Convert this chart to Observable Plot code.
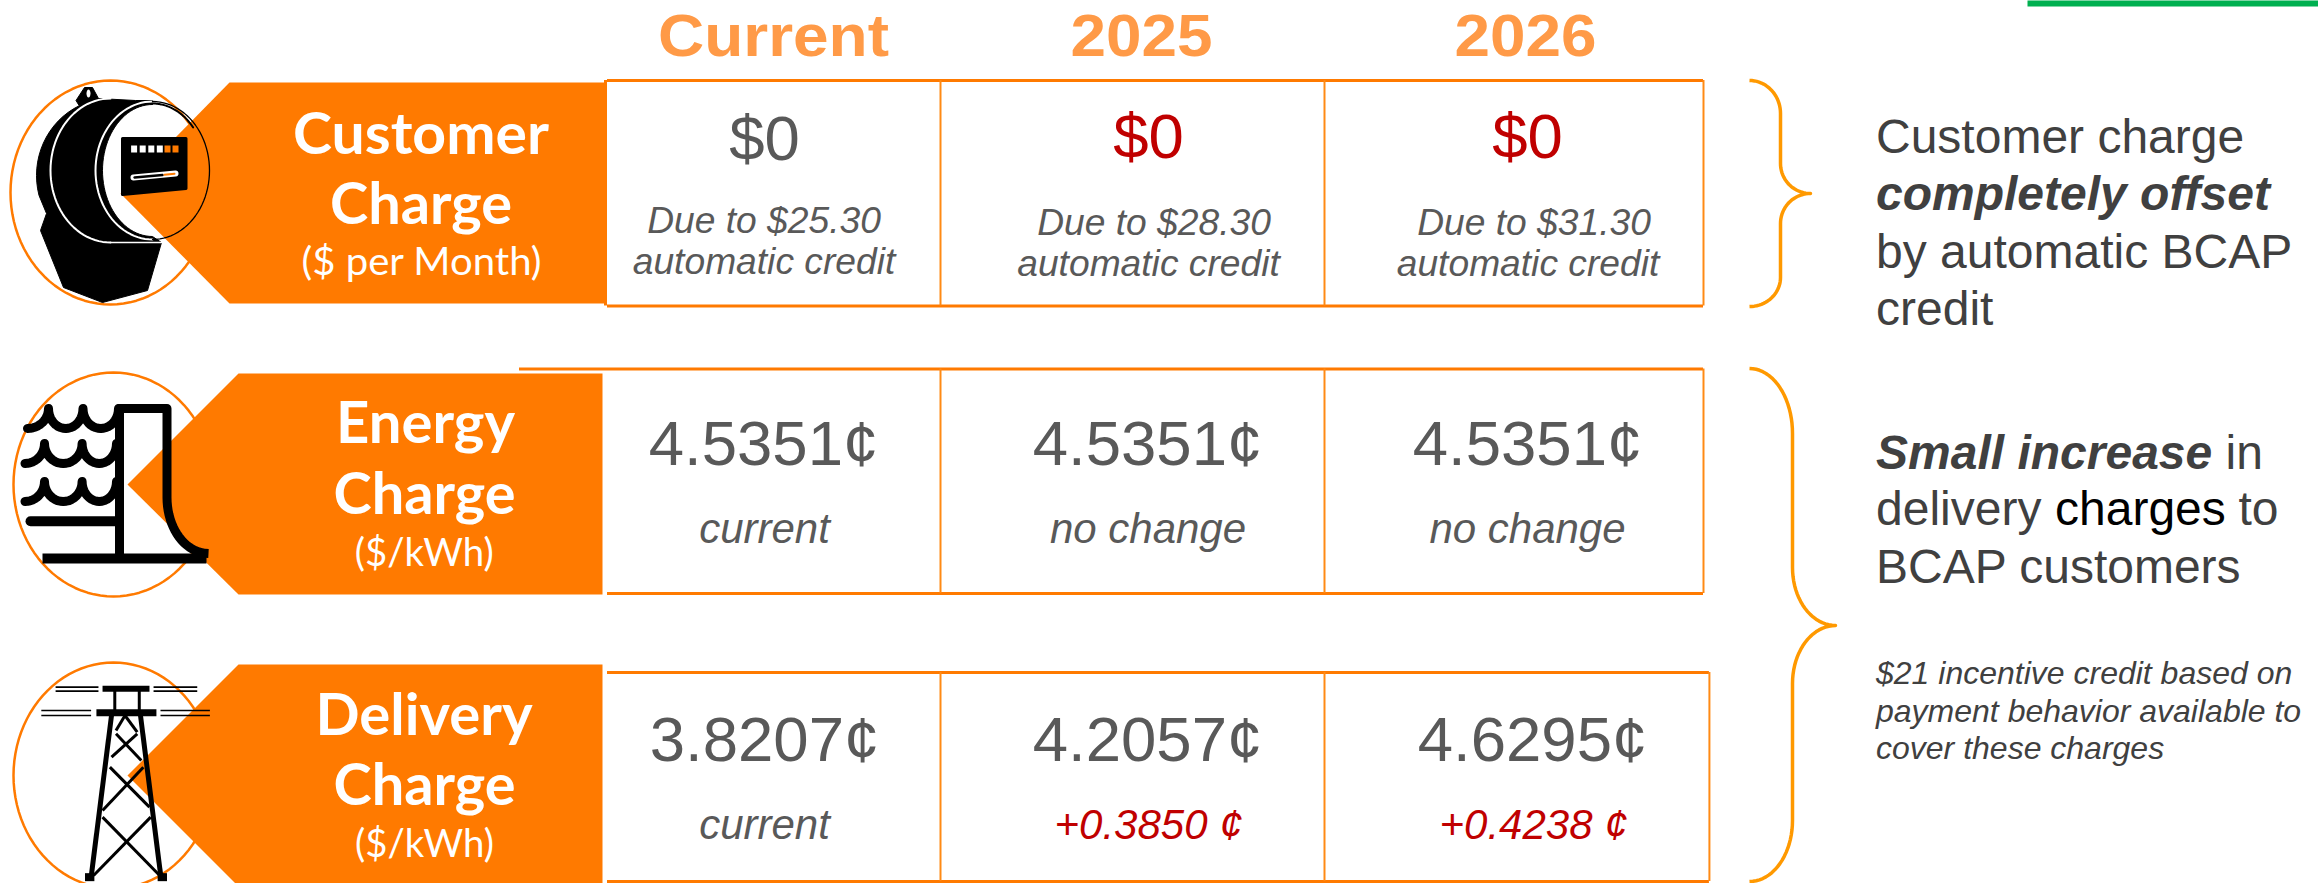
<!DOCTYPE html>
<html>
<head>
<meta charset="utf-8">
<script src="https://cdn.jsdelivr.net/npm/d3@7"></script>
<script src="https://cdn.jsdelivr.net/npm/@observablehq/plot@0.6"></script>
<style>html,body{margin:0;padding:0;background:#fff}svg{display:block}</style>
</head>
<body>
<script>
// ---------- content ----------
const headers = ["Current", "2025", "2026"];
const labelLines = [
  ["Customer", "Charge", "($ per Month)"],
  ["Energy", "Charge", "($/kWh)"],
  ["Delivery", "Charge", "($/kWh)"]
];
const rates = [
  ["$0", "$0", "$0"],
  ["4.5351¢", "4.5351¢", "4.5351¢"],
  ["3.8207¢", "4.2057¢", "4.6295¢"]
];
const creditLines = [
  ["Due to $25.30", "automatic credit"],
  ["Due to $28.30", "automatic credit"],
  ["Due to $31.30", "automatic credit"]
];
const changes = [
  ["current", "no change", "no change"],
  ["current", "+0.3850 ¢", "+0.4238 ¢"]
];
const customerNote = ["Customer charge", "completely offset", "by automatic BCAP", "credit"];
const deliveryNote = [["Small increase", "in"], ["delivery", "charges", "to"], ["BCAP customers"]];
const incentiveNote = ["$21 incentive credit based on", "payment behavior available to", "cover these charges"];

// ---------- layout: column and row positions ----------
// X: -1 = label panel, 0..3 = table column edges, 4 = note column
const X = d3.scaleLinear([-1, 0, 1, 2, 3, 4], [424, 604, 940, 1324, 1703, 1877]);
// Y: row r spans 2r .. 2r+1
const Y = d3.scaleLinear([0, 1, 2, 3, 4, 5], [80, 305.5, 368.5, 593, 672, 881]);

const ORANGE = "#FF7A00", LINE = "#FF8A14", BRACE = "#FF9900", HEAD = "#FF9A47";
const GREY = "#595959", NOTE = "#404040", RED = "#C00000";
const ARIAL = "'Liberation Sans', Arial, sans-serif", LABEL = "Lato, Carlito, sans-serif";

// place one text through the scales, offset from its column and row centre
function label(t, col, rowPos, px, py, o = {}) {
  return Plot.text([t], {
    x: () => X(col), y: () => Y(rowPos), text: d => d,
    dx: px - X(col), dy: py - Y(rowPos),
    lineAnchor: "bottom", textAnchor: "middle", fontFamily: ARIAL, ...o
  });
}
const marks = [];

// ---------- glyph helpers (icon outlines) ----------
const glyph = (pts, o) => Plot.line(pts, {
  x: d => d[0], y: d => d[1],
  stroke: "none", strokeLinecap: "round", strokeLinejoin: "round", ...o
});
function ell(cx, cy, rx, ry, a0, a1, n = 48) {
  return d3.range(n + 1).map(i => {
    const a = (a0 + (a1 - a0) * i / n) * Math.PI / 180;
    return [cx + rx * Math.cos(a), cy + ry * Math.sin(a)];
  });
}
const rectPts = (x0, y0, x1, y1) => [[x0, y0], [x1, y0], [x1, y1], [x0, y1], [x0, y0]];

// top-right green bar
marks.push(glyph(rectPts(2027, 0, 2318, 6), {fill: "#00B050"}));

// rings and arrow panels
const rings = [[110, 192, 100, 112], [113, 484, 100, 112], [113, 775, 100, 113]];
const panels = [
  [[229, 82], [605, 82], [605, 303], [229, 303], [120, 193], [229, 82]],
  [[238, 373], [602, 373], [602, 594], [238, 594], [127, 484], [238, 373]],
  [[238, 664], [602, 664], [602, 886], [238, 886], [127, 775], [238, 664]]
];
rings.forEach(([cx, cy, rx, ry]) => marks.push(glyph(ell(cx, cy, rx, ry, 0, 360, 96), {fill: "white", stroke: ORANGE, strokeWidth: 2.5})));
panels.forEach(p => marks.push(glyph(p, {fill: ORANGE})));

// --- meter icon ---
const faceInner = ell(152, 170, 50, 66, 90, 270);
const meterBody = [[152, 100], [135, 100], [98, 98], [92, 87], [84, 87], [75.5, 100], ...ell(110, 175, 74, 77, 245, 165, 16), [46, 213], [40, 230], [63, 287], [102, 302], [147, 290], [161, 242], ...faceInner];
marks.push(glyph(meterBody, {fill: "black", stroke: "black", strokeWidth: 1}));
marks.push(glyph(ell(88, 93, 2, 4, 0, 360, 16), {fill: "white"}));
marks.push(glyph(ell(152, 170, 57, 69, 90, 270), {stroke: "white", strokeWidth: 2}));
marks.push(glyph(ell(152, 170, 57, 69, -90, 90), {stroke: "black", strokeWidth: 1.3}));
marks.push(glyph(ell(152, 170, 53, 67, -90, -40), {stroke: "black", strokeWidth: 2}));
marks.push(glyph(ell(110, 170, 60, 72, 90, 270), {stroke: "white", strokeWidth: 2}));
marks.push(glyph([[110, 242], [161, 242]], {stroke: "white", strokeWidth: 1.5}));
marks.push(glyph([[122, 138], [185.5, 138], [185.5, 188], [122, 194], [122, 138]], {fill: "black", stroke: "black", strokeWidth: 3}));
[[130.6, "white"], [139.2, "white"], [147.8, "white"], [156.3, "white"], [164, ORANGE], [172, ORANGE]].forEach(([x, c]) =>
  marks.push(glyph(rectPts(x, 145, x + 6, 152), {fill: c})));
marks.push(glyph([[133, 177], [175, 173]], {stroke: "white", strokeWidth: 6}));
marks.push(glyph([[134, 177], [162, 174.5]], {stroke: "black", strokeWidth: 2.5}));
marks.push(glyph([[164, 174.3], [174, 173.3]], {stroke: ORANGE, strokeWidth: 2}));

// --- dam icon ---
function waves(x0, cusps, top, bottom) {
  let pts = ell(x0, top, cusps[0] - x0, bottom - top, 90, 0, 12);
  for (let i = 0; i + 1 < cusps.length; i++) {
    const a = cusps[i], b = cusps[i + 1];
    pts = pts.concat(ell((a + b) / 2, top, (b - a) / 2, bottom - top, 180, 0, 20));
  }
  return pts;
}
const waveStroke = {stroke: "black", strokeWidth: 9};
marks.push(glyph(waves(27, [48, 82.5, 118], 408, 428), waveStroke));
marks.push(glyph(waves(24.5, [44, 81.6, 116], 443, 463), waveStroke));
marks.push(glyph(waves(24.5, [44, 81.6, 116], 481, 501), waveStroke));
marks.push(glyph([[119, 557], [119, 408], [166.5, 408], [166.5, 497], ...ell(208, 497, 41.5, 56, 180, 90, 20).slice(1)], {stroke: "black", strokeWidth: 9, strokeLinecap: "butt"}));
marks.push(glyph([[30, 520.7], [116, 520.7]], {stroke: "black", strokeWidth: 10}));
marks.push(glyph([[42, 558], [206, 558]], {stroke: "black", strokeWidth: 10, strokeLinecap: "butt"}));

// --- tower icon ---
const tx = z => z / 2.45, ty = z => 620 + z / 3;
const tseg = (a, b, w) => marks.push(glyph([[tx(a[0]), ty(a[1])], [tx(b[0]), ty(b[1])]], {stroke: "black", strokeWidth: w, strokeLinecap: "butt"}));
tseg([250, 205], [365, 205], 6);
tseg([235, 277], [382, 277], 7);
tseg([280, 210], [280, 277], 3);
tseg([340, 210], [340, 277], 3);
tseg([272, 285], [222, 770], 5);
tseg([343, 285], [393, 770], 5);
tseg([230, 770], [207, 770], 8);
[[[283, 340], [345, 420]], [[335, 340], [272, 410]], [[268, 440], [365, 560]], [[350, 440], [250, 570]],
 [[250, 590], [390, 765]], [[368, 590], [228, 765]], [[305, 285], [283, 330]], [[305, 285], [335, 335]]]
  .forEach(([a, b]) => tseg(a, b, 3));
tseg([385, 770], [408, 770], 8);
[[135, 240, 200], [135, 240, 212], [375, 482, 200], [375, 482, 212], [100, 222, 270], [100, 222, 285], [392, 513, 270], [392, 513, 285]]
  .forEach(([a, b, y]) => tseg([a, y], [b, y], 1.6));

// ---------- table borders ----------
const rightEdge = [3, 3, 3.034];
const hairline = {stroke: ORANGE, strokeWidth: 3};
[0, 1, 2].forEach(r => {
  const x1 = r === 1 ? 519 : X(0) + 3;
  marks.push(Plot.ruleY([Y(2 * r)], {x1: () => x1, x2: () => X(rightEdge[r]), ...hairline}));
  marks.push(Plot.ruleY([Y(2 * r + 1)], {x1: () => X(0) + 3, x2: () => X(rightEdge[r]), ...hairline}));
  [1, 2, rightEdge[r]].forEach(c =>
    marks.push(Plot.ruleX([X(c)], {y1: () => Y(2 * r), y2: () => Y(2 * r + 1), stroke: LINE, strokeWidth: 2})));
});
marks.push(Plot.ruleX([X(0) + 1], {y1: () => Y(0), y2: () => Y(1), stroke: ORANGE, strokeWidth: 3}));

// ---------- braces ----------
function brace(x0, xv, xt, y0, yA, yB, yt, yC, yD, y1) {
  return [
    ...ell(x0, yA, xv - x0, yA - y0, -90, 0, 20),
    ...ell(xt, yB, xt - xv, yt - yB, 180, 90, 20),
    ...ell(xt, yC, xt - xv, yC - yt, -90, -180, 20),
    ...ell(x0, yD, xv - x0, y1 - yD, 0, 90, 20)
  ];
}
marks.push(glyph(brace(1749, 1780, 1810, 80, 113, 163, 193, 223, 277, 306), {stroke: BRACE, strokeWidth: 3.5, strokeLinecap: "butt"}));
marks.push(glyph(brace(1749, 1792, 1835, 368, 433, 567, 625, 683, 820, 881), {stroke: BRACE, strokeWidth: 3.5, strokeLinecap: "butt"}));

// ---------- header text ----------
const headerCenter = [773, 1141, 1525];
headers.forEach((h, c) => marks.push(label(h, c + 0.5, 0.5, headerCenter[c], 55.5, {fontSize: 60, fontWeight: 700, fill: HEAD})));

// ---------- panel labels ----------
const labelCenter = [[420.5, 420.5, 421], [425, 424, 423.7], [423.5, 424, 424]];
const labelBase = [[153, 223, 274], [442, 513, 565], [734, 804, 856]];
labelLines.forEach((lines, r) => lines.forEach((t, i) =>
  marks.push(label(t, -1, 2 * r + 0.5, labelCenter[r][i], labelBase[r][i], {
    fontFamily: LABEL, fill: "white", fontWeight: i < 2 ? 700 : 400, fontSize: i < 2 ? 58 : 38
  }))));

// ---------- rate values ----------
const rateCenter = [[764, 1148, 1527], [763, 1147, 1527], [764, 1147, 1532]];
const rateBase = [[159, 157, 157], [464, 464, 464], [760.5, 760.5, 760.5]];
rates.forEach((row, r) => row.forEach((t, c) =>
  marks.push(label(t, c + 0.5, 2 * r + 0.5, rateCenter[r][c], rateBase[r][c], {
    fontSize: 63.5, fill: r === 0 && c > 0 ? RED : GREY
  }))));

// ---------- captions ----------
const creditCenter = [[763.5, 763.5], [1153.5, 1148], [1533.5, 1527.5]];
const creditBase = [[232, 273], [234, 275], [234, 275]];
creditLines.forEach((lines, c) => lines.forEach((t, i) =>
  marks.push(label(t, c + 0.5, 0.5, creditCenter[c][i], creditBase[c][i], {fontSize: 37.2, fontStyle: "italic", fill: GREY}))));
const changeCenter = [[764, 1147.5, 1527], [764, 1148, 1533]];
const changeBase = [542, 838];
changes.forEach((row, k) => row.forEach((t, c) =>
  marks.push(label(t, c + 0.5, 2 * (k + 1) + 0.5, changeCenter[k][c], changeBase[k], {
    fontSize: 42, fontStyle: "italic", fill: t.startsWith("+") ? RED : GREY
  }))));

// ---------- notes ----------
const start = {textAnchor: "start", fill: NOTE};
const noteBase = [152, 209, 267, 324];
customerNote.forEach((t, i) => marks.push(label(t, 4, 0.5, 1875.5, noteBase[i], {
  ...start, fontSize: 48, ...(i === 1 ? {fontWeight: 700, fontStyle: "italic"} : {})
})));
const deliveryX = [[1875.5, 2225], [1875.5, 2054.5, 2238], [1875.5]];
const deliveryBase = [468, 524, 582];
deliveryNote.forEach((parts, l) => parts.forEach((t, i) => marks.push(label(t, 4, 3.5, deliveryX[l][i], deliveryBase[l], {
  ...start, fontSize: 48,
  ...(l === 0 && i === 0 ? {fontWeight: 700, fontStyle: "italic"} : {}),
  ...(t === "charges" ? {fill: "#000"} : {})
}))));
const incentiveBase = [683, 721, 758];
incentiveNote.forEach((t, i) => marks.push(label(t, 4, 3.5, 1875.5, incentiveBase[i], {...start, fontSize: 32, fontStyle: "italic"})));

const chart = Plot.plot({
  width: 2318, height: 883,
  margin: 0,
  style: {background: "white"},
  x: {domain: [0, 2318], range: [0, 2318], axis: null},
  y: {domain: [0, 883], range: [0, 883], axis: null},
  marks
});
document.body.appendChild(chart);

// fit the condensed panel labels and the header words to their measured widths
const fittedWidths = {"Customer": 256, "Charge": 182, "($ per Month)": 240, "Energy": 179, "($/kWh)": 139, "Delivery": 217, "Current": 231, "2025": 142, "2026": 142};
d3.select(chart).selectAll("text").each(function () {
  const w = fittedWidths[this.textContent];
  if (w) d3.select(this).attr("textLength", w).attr("lengthAdjust", "spacingAndGlyphs");
});
</script>
</body>
</html>
